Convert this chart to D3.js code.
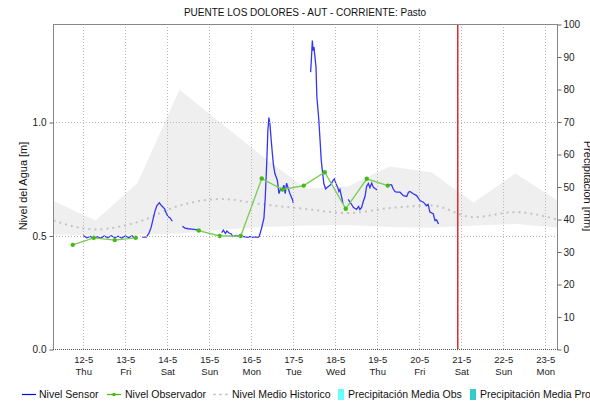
<!DOCTYPE html>
<html><head><meta charset="utf-8">
<script src="https://cdn.jsdelivr.net/npm/d3@7"></script>
<style>
body{margin:0;background:#fff;}
svg{display:block;font-family:"Liberation Sans",Arial,sans-serif;}
</style></head>
<body><svg id="c" width="590" height="404"></svg>
<script>
// ---------- DATA ----------
const title = "PUENTE LOS DOLORES - AUT - CORRIENTE: Pasto";
const leftTicks = [0.0, 0.5, 1.0];
const rightTicks = [0,10,20,30,40,50,60,70,80,90,100];
const dayTicks = ["2016-05-12","2016-05-13","2016-05-14","2016-05-15","2016-05-16","2016-05-17",
  "2016-05-18","2016-05-19","2016-05-20","2016-05-21","2016-05-22","2016-05-23"];
const legendLabels = ["Nivel Sensor","Nivel Observador","Nivel Medio Historico","Precipitación Media Obs","Precipitación Media Pro"];

// historic (daily)
const histTimes = ["05-11 07:00","05-12 07:00","05-13 07:00","05-14 07:00","05-15 07:00","05-16 07:00",
  "05-17 07:00","05-18 07:00","05-19 07:00","05-20 07:00","05-21 07:00","05-22 07:00","05-23 07:00"];
const histMax  = [0.654,0.568,0.734,1.144,0.996,0.848,0.709,0.718,0.806,0.781,0.648,0.775,0.656];
const histMin  = [0.507,0.502,0.507,0.511,0.527,0.540,0.546,0.548,0.540,0.536,0.546,0.553,0.537];
const histMean = [0.568,0.529,0.561,0.634,0.663,0.639,0.619,0.601,0.623,0.634,0.583,0.605,0.572];

// observer readings (null = no reading)
const obsTimes = ["05-11 18:00","05-12 06:00","05-12 18:00","05-13 06:00","05-13 18:00","05-14 06:00",
  "05-14 18:00","05-15 06:00","05-15 18:00","05-16 06:00","05-16 18:00","05-17 06:00","05-17 18:00",
  "05-18 06:00","05-18 18:00","05-19 06:00"];
const obsValues = [0.461,0.492,0.482,0.492,null,null,0.524,0.500,0.500,0.753,0.705,0.722,0.781,0.620,0.752,0.722];

// sensor readings (null = gap)
const sensorTimes = [
 "05-12 00:00","05-12 02:00","05-12 04:00","05-12 06:00","05-12 08:00","05-12 10:00","05-12 12:00","05-12 14:00",
 "05-12 16:00","05-12 18:00","05-12 20:00","05-12 22:00","05-13 00:00","05-13 02:00","05-13 04:00","05-13 05:00",
 "05-13 07:00",
 "05-13 09:40","05-13 12:00","05-13 13:30","05-13 14:50","05-13 16:50","05-13 18:05","05-13 19:30","05-13 20:40",
 "05-13 22:30","05-13 23:30","05-14 00:25","05-14 01:30","05-14 02:55",
 "05-14 05:00",
 "05-14 08:40","05-14 10:05","05-14 12:00","05-14 14:05","05-14 16:25","05-14 18:20",
 "05-15 00:00",
 "05-15 07:05","05-15 08:05","05-15 09:15","05-15 10:05","05-15 11:15","05-15 12:25","05-15 13:30","05-15 15:15",
 "05-15 16:25","05-15 17:30","05-15 18:40","05-15 20:25","05-15 22:05","05-15 23:15","05-16 00:25","05-16 02:05",
 "05-16 03:50","05-16 04:35","05-16 05:55","05-16 07:15","05-16 08:00","05-16 08:50","05-16 09:30","05-16 10:05",
 "05-16 10:40","05-16 11:25","05-16 12:35","05-16 13:30","05-16 14:55","05-16 15:50","05-16 16:50","05-16 17:40",
 "05-16 18:40","05-16 19:25","05-16 20:10","05-16 21:10","05-16 22:05","05-16 23:40","05-17 00:00",
 "05-17 03:00",
 "05-17 09:55","05-17 10:20","05-17 10:55","05-17 11:20","05-17 11:50","05-17 12:25","05-17 13:00","05-17 13:30",
 "05-17 14:30","05-17 15:20","05-17 16:00","05-17 16:50","05-17 17:30","05-17 18:30","05-17 19:30","05-17 20:25",
 "05-17 21:30","05-17 22:40","05-17 23:30","05-18 00:25","05-18 01:25","05-18 02:05","05-18 02:40","05-18 03:40",
 "05-18 04:25",
 "05-18 06:00",
 "05-18 07:25","05-18 09:00","05-18 10:20","05-18 12:10","05-18 13:20","05-18 14:05","05-18 15:05","05-18 16:00",
 "05-18 17:00","05-18 17:55","05-18 18:55","05-18 19:50","05-18 20:50","05-18 21:40","05-18 22:40","05-19 00:00",
 "05-19 03:00",
 "05-19 06:55","05-19 08:10","05-19 09:05","05-19 10:05","05-19 11:05","05-19 13:00","05-19 14:55","05-19 16:50",
 "05-19 17:50","05-19 18:40","05-19 20:35","05-19 22:30","05-20 00:25","05-20 02:20","05-20 04:10","05-20 05:05",
 "05-20 06:05","05-20 08:00","05-20 09:00","05-20 09:55","05-20 11:00"];
const sensorValues = [
 0.502,0.492,0.498,0.490,0.497,0.491,0.500,0.492,
 0.501,0.493,0.499,0.491,0.500,0.493,0.501,0.492,
 null,
 0.495,0.495,0.511,0.539,0.605,0.634,0.646,0.634,
 0.620,0.599,0.586,0.581,0.565,
 null,
 0.543,0.535,0.532,0.530,0.528,0.526,
 null,
 0.515,0.526,0.511,0.522,0.513,0.510,0.498,0.502,
 0.498,0.504,0.499,0.496,0.494,0.498,0.494,0.496,
 0.494,0.498,0.535,0.579,0.667,0.819,0.965,1.022,
 0.994,0.921,0.819,0.775,0.746,0.687,0.709,0.702,
 0.724,0.687,0.733,0.709,0.687,0.658,0.646,
 null,
 1.222,1.273,1.361,1.317,1.332,1.288,1.244,1.111,
 1.023,0.921,0.833,0.774,0.730,0.708,0.715,0.720,
 0.727,0.744,0.752,0.730,0.714,0.696,0.705,0.670,
 0.643,
 null,
 0.661,0.643,0.626,0.617,0.630,0.617,0.626,0.652,
 0.674,0.718,0.731,0.713,0.733,0.716,0.709,0.703,
 null,
 0.726,0.725,0.708,0.696,0.693,0.693,0.678,0.674,
 0.693,0.696,0.686,0.678,0.656,0.649,0.634,0.639,
 0.605,0.598,0.568,0.571,0.553];

const nowTime = "05-20 21:30";
const xStart = "05-11 07:00", xEnd = "05-23 07:00";
const leftMax = 1.4317, rightMax = 100;

// ---------- CHART ----------
const parse = s => d3.timeParse("%Y-%m-%d %H:%M")("2016-" + s);
const svg = d3.select("#c");
const L = 53, R = 557, T = 24, B = 349;
const x = d3.scaleTime().domain([parse(xStart), parse(xEnd)]).range([L + 0.5, R + 0.5]);
const y = d3.scaleLinear().domain([0, leftMax]).range([B + 0.5, T + 0.5]);
const yR = d3.scaleLinear().domain([0, rightMax]).range([B + 0.5, T + 0.5]);

// historic band
const hist = histTimes.map((t, i) => ({t: parse(t), lo: histMin[i], hi: histMax[i], m: histMean[i]}));
svg.append("clipPath").attr("id","pc").append("rect").attr("x",L).attr("y",T).attr("width",R-L).attr("height",B-T);
const plot = svg.append("g").attr("clip-path","url(#pc)");
plot.append("path").datum(hist)
  .attr("d", d3.area().x(d => x(d.t)).y0(d => y(d.lo)).y1(d => y(d.hi)))
  .attr("fill", "#efefef");

// gridlines
const grid = svg.append("g");
grid.selectAll("line.v").data(dayTicks).join("line")
  .attr("x1", d => Math.round(x(parse(d.slice(5) + " 00:00"))) + 0.5)
  .attr("x2", d => Math.round(x(parse(d.slice(5) + " 00:00"))) + 0.5)
  .attr("y1", T).attr("y2", B)
  .attr("stroke", "#b8b8b8").attr("stroke-dasharray", "1,2");
grid.selectAll("line.h").data(leftTicks.filter(v => v > 0)).join("line")
  .attr("x1", L).attr("x2", R)
  .attr("y1", d => Math.round(y(d)) + 0.5).attr("y2", d => Math.round(y(d)) + 0.5)
  .attr("stroke", "#b8b8b8").attr("stroke-dasharray", "1,2");

// mean line
plot.append("path").datum(hist)
  .attr("d", d3.line().x(d => x(d.t)).y(d => y(d.m)).curve(d3.curveMonotoneX))
  .attr("fill", "none").attr("stroke", "#c4c4c4").attr("stroke-width", 2)
  .attr("stroke-dasharray", "2,4");

// sensor line
const sensor = sensorTimes.map((t, i) => ({t: parse(t), v: sensorValues[i]}));
plot.append("path").datum(sensor)
  .attr("d", d3.line().defined(d => d.v != null).x(d => x(d.t)).y(d => y(d.v)))
  .attr("fill", "none").attr("stroke", "#3535f5").attr("stroke-width", 1.3);

// observer line
const obs = obsTimes.map((t, i) => ({t: parse(t), v: obsValues[i]}));
plot.append("path").datum(obs)
  .attr("d", d3.line().defined(d => d.v != null).x(d => x(d.t)).y(d => y(d.v)))
  .attr("fill", "none").attr("stroke", "#77cc55").attr("stroke-width", 1.3);
plot.selectAll("circle.o").data(obs.filter(d => d.v != null)).join("circle")
  .attr("cx", d => x(d.t)).attr("cy", d => y(d.v)).attr("r", 2.2).attr("fill", "#44bb11");

// now line
const nx = Math.round(x(parse(nowTime)));
svg.append("rect").attr("x", nx).attr("y", T).attr("width", 1.5).attr("height", B - T)
  .attr("fill", "#e8262b");

// frame
svg.append("line").attr("x1", L + 0.5).attr("x2", L + 0.5).attr("y1", T).attr("y2", B + 1).attr("stroke", "#888");
svg.append("line").attr("x1", R + 0.5).attr("x2", R + 0.5).attr("y1", T).attr("y2", B + 1).attr("stroke", "#888");
svg.append("line").attr("x1", L).attr("x2", R + 1).attr("y1", T + 0.5).attr("y2", T + 0.5).attr("stroke", "#888");
svg.append("line").attr("x1", L).attr("x2", R + 1).attr("y1", B + 0.5).attr("y2", B + 0.5)
  .attr("stroke", "#555").attr("stroke-dasharray", "1,1");

// left axis
const la = svg.append("g").attr("transform", `translate(${L + 0.5},0)`)
  .call(d3.axisLeft(y).tickValues(leftTicks).tickFormat(d3.format(".1f")).tickSize(4).tickPadding(3));
la.select(".domain").remove();
la.selectAll("line").attr("stroke", "#666");
la.selectAll("text").attr("font-size", 10).attr("fill", "#222").attr("font-family", "Liberation Sans, Arial, sans-serif");

// right axis
const ra = svg.append("g").attr("transform", `translate(${R + 0.5},0)`)
  .call(d3.axisRight(yR).tickValues(rightTicks).tickSize(4).tickPadding(2));
ra.select(".domain").remove();
ra.selectAll("line").attr("stroke", "#666");
ra.selectAll("text").attr("font-size", 10).attr("fill", "#222").attr("font-family", "Liberation Sans, Arial, sans-serif");

// bottom axis (two-line labels)
const fmt1 = d3.timeFormat("%-d-%-m"), fmt2 = d3.timeFormat("%a");
const xa = svg.append("g").attr("transform", `translate(0,${B})`)
  .call(d3.axisBottom(x).tickValues(dayTicks.map(d => parse(d.slice(5) + " 00:00"))).tickSize(0).tickFormat(""));
xa.select(".domain").remove();
xa.selectAll(".tick").each(function(d) {
  const g = d3.select(this);
  g.append("text").attr("y", 14).attr("text-anchor", "middle").attr("font-size", 9.5).attr("fill", "#222").text(fmt1(d));
  g.append("text").attr("y", 26).attr("text-anchor", "middle").attr("font-size", 9.5).attr("fill", "#222").text(fmt2(d));
});

// title & axis labels
svg.append("text").attr("x", 305).attr("y", 16).attr("text-anchor", "middle")
  .attr("font-size", 10).attr("fill", "#111").text(title);
svg.append("text").attr("transform", "translate(27,186) rotate(-90)").attr("text-anchor", "middle")
  .attr("font-size", 11).attr("fill", "#111").text("Nivel del Agua [m]");
svg.append("text").attr("transform", "translate(584,186) rotate(90)").attr("text-anchor", "middle")
  .attr("font-size", 11).attr("fill", "#111").text("Precipitación [mm]");

// legend
const lg = svg.append("g").attr("font-size", 10.5).attr("fill", "#111");
const ly = 394;
lg.append("line").attr("x1", 22).attr("x2", 36).attr("y1", ly + 0.5).attr("y2", ly + 0.5).attr("stroke", "#0000ee").attr("stroke-width", 1.2);
lg.append("text").attr("x", 39).attr("y", ly + 4).text(legendLabels[0]);
lg.append("line").attr("x1", 107).attr("x2", 121).attr("y1", ly + 0.5).attr("y2", ly + 0.5).attr("stroke", "#44bb11").attr("stroke-width", 1.2);
lg.append("circle").attr("cx", 114).attr("cy", ly + 0.5).attr("r", 1.8).attr("fill", "#44bb11");
lg.append("text").attr("x", 125).attr("y", ly + 4).text(legendLabels[1]);
lg.append("line").attr("x1", 213).attr("x2", 228).attr("y1", ly + 0.5).attr("y2", ly + 0.5).attr("stroke", "#c8c8c8").attr("stroke-width", 1.5).attr("stroke-dasharray", "3,3");
lg.append("text").attr("x", 232).attr("y", ly + 4).text(legendLabels[2]);
lg.append("rect").attr("x", 338).attr("y", ly - 5).attr("width", 6).attr("height", 11).attr("fill", "#66ffff");
lg.append("text").attr("x", 348).attr("y", ly + 4).text(legendLabels[3]);
lg.append("rect").attr("x", 470).attr("y", ly - 5).attr("width", 6).attr("height", 11).attr("fill", "#33cccc");
lg.append("text").attr("x", 480).attr("y", ly + 4).text(legendLabels[4]);
</script></body></html>
